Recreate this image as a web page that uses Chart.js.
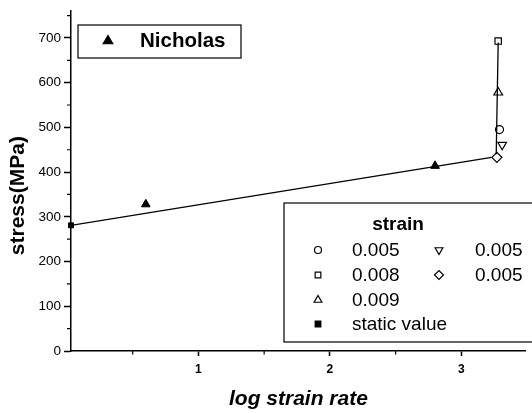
<!DOCTYPE html>
<html>
<head>
<meta charset="utf-8">
<script src="https://cdn.jsdelivr.net/npm/chart.js@4/dist/chart.umd.min.js"></script>
<style>
  html, body { margin: 0; padding: 0; background: #fff; }
  #wrap { width: 532px; height: 413px; }
</style>
</head>
<body>
<div id="wrap"><canvas id="myChart"></canvas></div>
<script>
// fitted line through the static value and the Nicholas points
const fitX = [0.031, 3.23];
const fitY = [281, 433];
// steep rise at high strain rate
const riseX = [3.265, 3.28];
const riseY = [440, 690];

const nicholasX = [0.6, 2.8];
const nicholasY = [328, 414];

const staticX = [0.031];
const staticY = [281];

const strainLabels = ['0.005', '0.008', '0.009', '0.005', '0.005'];
const strainX = [3.29, 3.28, 3.28, 3.31, 3.27];
const strainY = [495, 693, 578, 461, 433];

const yTicks = [0, 100, 200, 300, 400, 500, 600, 700];
const xTicks = [1, 2, 3];

const FONT = "'Liberation Sans', Arial, sans-serif";

function pts(xs, ys) {
  const out = [];
  for (let i = 0; i < xs.length; i++) {
    out.push({ x: xs[i], y: ys[i] });
  }
  return out;
}

// marker looks for the strain points, same order as strainLabels
const strainStyles = [
  { pointStyle: 'circle', radius: 4, rotation: 0 },
  { pointStyle: 'rect', radius: 4.5, rotation: 0 },
  { pointStyle: 'triangle', radius: 5, rotation: 0 },
  { pointStyle: 'triangle', radius: 5, rotation: 180 },
  { pointStyle: 'rectRot', radius: 5, rotation: 0 },
];

const datasets = [
  {
    label: 'fit',
    data: pts(fitX, fitY),
    showLine: true,
    borderColor: '#000',
    borderWidth: 1.3,
    pointRadius: 0,
  },
  {
    label: 'rise',
    data: pts(riseX, riseY),
    showLine: true,
    borderColor: '#000',
    borderWidth: 1.3,
    pointRadius: 0,
  },
  {
    label: 'Nicholas',
    data: pts(nicholasX, nicholasY),
    pointStyle: 'triangle',
    pointRadius: 5,
    backgroundColor: '#000',
    borderColor: '#000',
  },
  {
    label: 'static value',
    data: pts(staticX, staticY),
    pointStyle: 'rect',
    pointRadius: 3.5,
    backgroundColor: '#000',
    borderColor: '#000',
    clip: false,
  },
];

for (let i = 0; i < strainLabels.length; i++) {
  datasets.push({
    label: strainLabels[i],
    data: [{ x: strainX[i], y: strainY[i] }],
    pointStyle: strainStyles[i].pointStyle,
    pointRadius: strainStyles[i].radius,
    pointRotation: strainStyles[i].rotation,
    backgroundColor: '#fff',
    borderColor: '#000',
    borderWidth: 1.2,
  });
}

// small minor ticks (half steps) outside the axes
const minorTicks = {
  id: 'minorTicks',
  afterDraw(chart) {
    const ctx = chart.ctx;
    const xs = chart.scales.x;
    const ys = chart.scales.y;
    ctx.save();
    ctx.strokeStyle = '#000';
    ctx.lineWidth = 1.2;
    ctx.beginPath();
    for (let v = 0.5; v < xs.max; v += 1) {
      const px = xs.getPixelForValue(v);
      ctx.moveTo(px, ys.bottom);
      ctx.lineTo(px, ys.bottom + 3.5);
    }
    for (let v = 50; v < ys.max; v += 100) {
      const py = ys.getPixelForValue(v);
      ctx.moveTo(xs.left, py);
      ctx.lineTo(xs.left - 4, py);
    }
    ctx.stroke();
    ctx.restore();
  }
};

function marker(ctx, style, radius, rotation, x, y, fill) {
  ctx.fillStyle = fill;
  ctx.strokeStyle = '#000';
  ctx.lineWidth = 1.2;
  Chart.helpers.drawPoint(ctx, { pointStyle: style, radius: radius, rotation: rotation, borderWidth: 1.2 }, x, y);
}

// the two framed legends inside the plot
const boxLegends = {
  id: 'boxLegends',
  afterDraw(chart) {
    const ctx = chart.ctx;
    ctx.save();
    ctx.strokeStyle = '#000';
    ctx.lineWidth = 1.2;

    // Nicholas box
    ctx.strokeRect(78, 25, 163, 33);
    marker(ctx, 'triangle', 5.5, 0, 108, 41, '#000');
    ctx.fillStyle = '#000';
    ctx.font = 'bold 20.5px ' + FONT;
    ctx.textBaseline = 'middle';
    ctx.textAlign = 'left';
    ctx.fillText('Nicholas', 140, 41);

    // strain box
    ctx.fillStyle = '#fff';
    ctx.fillRect(284, 203, 260, 139);
    ctx.strokeRect(284, 203, 260, 139);
    ctx.fillStyle = '#000';
    ctx.font = 'bold 19px ' + FONT;
    ctx.textAlign = 'center';
    ctx.fillText('strain', 398, 225);

    ctx.font = '19px ' + FONT;
    ctx.textAlign = 'left';
    const cols = [[318, 352], [318, 352], [318, 352], [439, 475], [439, 475]];
    const rows = [250, 275, 300, 250, 275];
    for (let i = 0; i < strainLabels.length; i++) {
      const s = strainStyles[i];
      marker(ctx, s.pointStyle, s.radius - 0.5, s.rotation, cols[i][0], rows[i], '#fff');
      ctx.fillStyle = '#000';
      ctx.fillText(strainLabels[i], cols[i][1], rows[i] + 1);
    }
    marker(ctx, 'rect', 4, 0, 318, 324, '#000');
    ctx.fillStyle = '#000';
    ctx.fillText('static value', 352, 325);
    ctx.restore();
  }
};

const config = {
  type: 'scatter',
  data: { datasets: datasets },
  options: {
    responsive: true,
    maintainAspectRatio: false,
    animation: false,
    layout: { padding: { top: 10, right: 0, left: 0, bottom: 0 } },
    plugins: {
      legend: { display: false },
      tooltip: { enabled: false },
    },
    scales: {
      x: {
        type: 'linear',
        min: 0.031,
        max: 3.49,
        afterBuildTicks(scale) {
          scale.ticks = xTicks.map(v => ({ value: v }));
        },
        afterFit(scale) { scale.height = 62; },
        border: { display: true, color: '#000', width: 1.5 },
        grid: { drawOnChartArea: false, drawTicks: true, tickLength: 5, tickColor: '#000', tickWidth: 1.5 },
        ticks: {
          color: '#000',
          padding: 6,
          font: { family: FONT, size: 12, weight: 'bold' },
          maxRotation: 0,
          callback: v => String(v),
        },
        title: {
          display: true,
          text: 'log strain rate',
          color: '#000',
          font: { family: FONT, size: 21, weight: 'bold', style: 'italic' },
          padding: { top: 10, bottom: 1 },
        },
      },
      y: {
        type: 'linear',
        min: 0,
        max: 760,
        afterBuildTicks(scale) {
          scale.ticks = yTicks.map(v => ({ value: v }));
        },
        afterFit(scale) { scale.width = 71; },
        border: { display: true, color: '#000', width: 1.5 },
        grid: { drawOnChartArea: false, drawTicks: true, tickLength: 7, tickColor: '#000', tickWidth: 1.5 },
        ticks: {
          color: '#000',
          padding: 3,
          font: { family: FONT, size: 13.5 },
          callback: v => String(v),
        },
        title: {
          display: true,
          text: 'stress(MPa)     ',
          color: '#000',
          font: { family: FONT, size: 21, weight: 'bold' },
          padding: { top: 6, bottom: 4 },
        },
      },
    },
  },
  plugins: [minorTicks, boxLegends],
};

const stressChart = new Chart(document.getElementById('myChart'), config);
</script>
</body>
</html>
